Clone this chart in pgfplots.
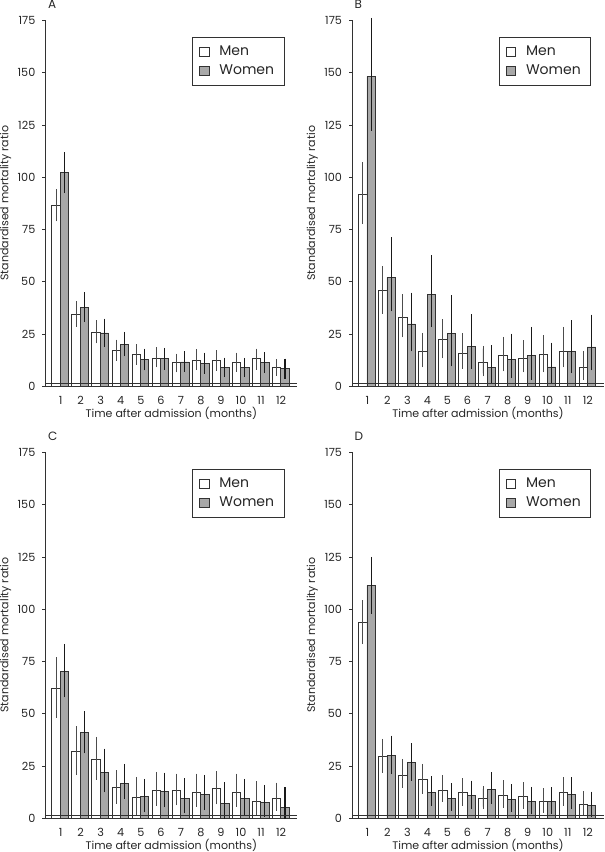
\documentclass[border=0pt]{standalone}
\usepackage{fontspec}
\setmainfont{Poppins}
\usepackage{pgfplots}
\usepackage{pgfplotstable}
\usepgfplotslibrary{groupplots}
\pgfplotsset{compat=1.18}

\definecolor{womenfill}{RGB}{168,168,168}
\definecolor{edge}{RGB}{50,50,50}

% columns: month, men SMR, men upper CI, men lower CI, women SMR, women upper CI, women lower CI
\pgfplotstableread{
t m mhi mlo w whi wlo
1 86.5 92.8 80.2 102.3 110.8 93.6
2 34.3 39.4 29.8 37.8 43.8 31.9
3 25.8 30.3 21.8 25.5 31.1 19.9
4 17.1 21.0 13.5 19.9 24.7 15.5
5 15.1 18.8 11.6 12.8 16.7 8.8
6 13.5 17.2 10.4 13.1 17.1 9.2
7 11.2 14.3 8.0 11.6 15.5 8.0
8 12.4 16.3 9.1 10.8 14.8 7.2
9 12.3 15.9 8.8 8.8 12.4 5.6
10 11.5 14.7 8.3 9.1 12.3 5.6
11 13.1 16.7 9.2 11.5 15.1 7.5
12 8.8 11.5 6.4 8.3 12.0 4.8
}\dataA
\pgfplotstableread{
t m mhi mlo w whi wlo
1 92.0 105.7 78.9 148.2 175.0 123.5
2 45.7 56.1 35.9 52.1 70.0 37.1
3 32.7 42.6 24.7 29.8 43.5 17.9
4 16.7 24.2 10.4 43.8 61.4 29.5
5 22.3 30.6 14.7 25.2 42.2 10.7
6 15.9 23.9 9.6 19.1 33.2 9.6
7 11.2 18.0 6.1 9.1 18.3 2.7
8 14.7 22.3 8.4 12.8 23.9 5.1
9 13.5 20.7 8.0 14.7 27.1 4.3
10 15.1 23.1 8.0 9.2 19.6 2.7
11 16.7 27.1 10.4 16.7 30.3 7.5
12 9.1 15.6 4.5 18.8 33.0 8.8
}\dataB
\pgfplotstableread{
t m mhi mlo w whi wlo
1 61.9 75.6 49.5 70.0 82.1 59.1
2 32.0 42.7 21.9 41.2 49.9 32.3
3 28.0 37.6 19.7 21.9 32.0 13.6
4 14.9 21.6 8.3 16.8 24.8 10.4
5 9.9 18.4 2.4 10.4 17.6 4.0
6 13.3 20.8 7.2 12.8 20.5 6.4
7 13.1 20.0 7.5 9.6 17.9 3.5
8 12.5 20.0 6.9 11.2 19.5 5.1
9 14.1 21.1 8.0 7.2 16.0 0.8
10 12.3 20.0 6.9 9.3 17.6 2.4
11 8.0 16.3 2.4 7.7 14.7 1.9
12 9.6 15.7 4.8 5.3 13.6 0.8
}\dataC
\pgfplotstableread{
t m mhi mlo w whi wlo
1 93.9 102.9 84.6 111.4 123.8 99.0
2 29.4 36.6 23.1 29.9 38.2 22.3
3 20.7 27.0 15.9 26.7 34.5 19.1
4 18.6 24.7 13.0 12.2 18.8 7.2
5 13.5 19.1 9.2 9.5 15.4 4.8
6 12.2 17.8 7.2 10.7 16.7 5.6
7 9.5 14.0 5.6 13.8 20.7 8.0
8 11.1 16.7 6.4 9.1 15.1 4.3
9 10.3 15.9 5.9 8.0 13.8 3.2
10 8.0 13.0 4.0 8.0 13.5 3.2
11 12.4 18.3 7.2 11.5 18.3 5.6
12 6.7 11.5 2.7 6.0 11.5 1.6
}\dataD

\pgfplotsset{
  smrbar/.style={draw=edge, line width=0.4pt, bar width=0.42,
    legend image code/.code={\draw[##1] (0pt,-2.4pt) rectangle (4.8pt,2.4pt);},
    error bars/y dir=both, error bars/y explicit},
  men/.style={smrbar, bar shift=-0.23, fill=white,
    error bars/error bar style={line width=0.45pt, black!70},
    error bars/error mark options={mark size=1.4pt, line width=0.45pt, black!70}},
  women/.style={smrbar, bar shift=0.19, fill=womenfill,
    error bars/error bar style={line width=0.6pt, black!90},
    error bars/error mark options={mark size=1.3pt, line width=0.6pt, black!90}},
}

\newcommand\panel[2]{%
  \nextgroupplot[title={#1}]
  \addplot[men] table[x=t, y=m, y error plus expr=\thisrow{mhi}-\thisrow{m}, y error minus expr=\thisrow{m}-\thisrow{mlo}] {#2};
  \addlegendentry{Men}
  \addplot[women] table[x=t, y=w, y error plus expr=\thisrow{whi}-\thisrow{w}, y error minus expr=\thisrow{w}-\thisrow{wlo}] {#2};
  \addlegendentry{Women}
  \addplot[forget plot, sharp plot, draw=edge, fill=none, line width=0.4pt] coordinates {(0.25,1.2)(12.8,1.2)};
}

\begin{document}
\begin{tikzpicture}
\begin{groupplot}[
  group style={group size=2 by 2, horizontal sep=27.5pt, vertical sep=33pt},
  scale only axis, width=125.5pt, height=182.5pt,
  ybar,
  xmin=0.25, xmax=12.8, ymin=0, ymax=175,
  xtick={1,...,12}, ytick={0,25,...,175},
  axis x line*=bottom, axis y line*=left,
  axis line style={edge, line width=0.4pt},
  xtick style={draw=none},
  ytick style={edge, line width=0.4pt},
  tick align=outside, major tick length=1.6pt,
  /pgf/number format/assume math mode=true,
  ticklabel style={font=\fontsize{5.6}{6}\selectfont, text=black!85},
  clip=false,
  xlabel={Time after admission (months)},
  ylabel={Standardised mortality ratio},
  label style={font=\fontsize{5.5}{6.5}\selectfont, text=black!85},
  xlabel style={at={(axis description cs:0.5,0)}, anchor=north, inner sep=0pt, yshift=-10.5pt},
  ylabel style={at={(axis description cs:-0.135,0.5)}, anchor=south, inner sep=0pt},
  every axis title shift=0pt,
  title style={at={(axis description cs:0,1)}, anchor=base west, inner sep=0pt, xshift=1pt, yshift=6pt, font=\fontsize{6}{7}\selectfont, text=black!85},
  legend style={at={(0.95,0.954)}, anchor=north east, draw=edge, line width=0.4pt,
    font=\fontsize{7}{8}\selectfont, text=black!85, inner xsep=3pt, inner ysep=2pt,
    row sep=-1pt, /tikz/every odd column/.append style={column sep=3pt}},
  legend cell align=left,
]
\panel{A}{\dataA}
\panel{B}{\dataB}
\panel{C}{\dataC}
\panel{D}{\dataD}
\end{groupplot}
\end{tikzpicture}
\end{document}
